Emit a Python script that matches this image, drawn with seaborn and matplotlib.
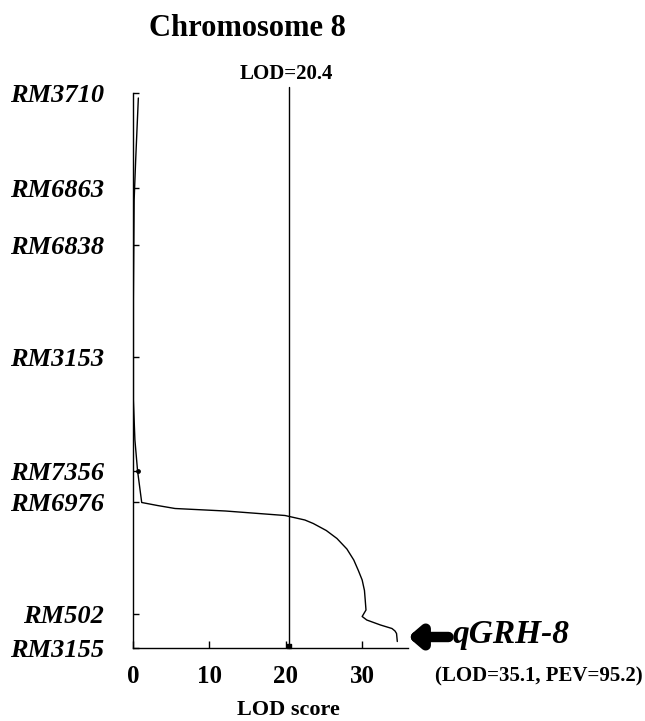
import matplotlib
matplotlib.use("Agg")
import matplotlib.pyplot as plt
import seaborn as sns
import pandas as pd

# ---- data ----
markers = ["RM3710", "RM6863", "RM6838", "RM3153", "RM7356", "RM6976", "RM502", "RM3155"]
marker_pos = [0.0, 19.0, 30.4, 52.8, 75.6, 81.8, 104.2, 111.0]

curve_pos = [1.0, 13.4, 21.4, 41.4, 61.4, 69.4, 75.6, 81.9, 82.5, 83.1, 83.6, 84.5,
             85.4, 86.1, 87.5, 89.1, 91.2, 93.4, 95.5, 97.4, 99.5, 101.4, 103.4,
             104.7, 105.4, 105.9, 106.4, 107.1, 107.6, 108.1, 109.7]
curve_lod = [0.7, 0.35, 0.15, 0.05, 0.05, 0.25, 0.6, 1.14, 3.2, 5.5, 12.1, 19.9,
             22.5, 23.6, 25.3, 26.7, 28.0, 28.9, 29.5, 30.0, 30.3, 30.4, 30.5,
             30.0, 30.6, 31.5, 32.4, 33.9, 34.3, 34.5, 34.6]

threshold = 20.4
x_ticks = [0, 10, 20, 30]
title = "Chromosome 8"
qtl_name = "qGRH-8"
qtl_info = "(LOD=35.1, PEV=95.2)"

df = pd.DataFrame({"pos": curve_pos, "lod": curve_lod})

sns.set_style("white")
plt.rcParams["font.family"] = ["Liberation Serif", "DejaVu Serif"]
plt.rcParams["font.weight"] = "bold"
plt.rcParams["text.color"] = "black"
plt.rcParams["axes.labelcolor"] = "black"
plt.rcParams["xtick.color"] = "black"
plt.rcParams["ytick.color"] = "black"

fig = plt.figure(figsize=(6.45, 7.21), dpi=100)
ax = fig.add_axes([133 / 645, 1 - 648 / 721, (408 - 133) / 645, (648 - 93) / 721])

sns.lineplot(data=df, x="lod", y="pos", orient="y", sort=False, estimator=None,
             color="black", linewidth=1.0, ax=ax)
ax.scatter([0.6], [75.6], s=6, color="black", zorder=3)

ax.set_xlim(0, 36.0)
ax.set_ylim(111.0, 0.0)

# threshold line
ax.plot([threshold, threshold], [111.0, -1.2], color="black", linewidth=1.0, clip_on=False)
ax.scatter([threshold], [110.6], marker="s", s=6, color="black", zorder=3, clip_on=False)

for s in ["top", "right"]:
    ax.spines[s].set_visible(False)
for s in ["left", "bottom"]:
    ax.spines[s].set_color("black")
    ax.spines[s].set_linewidth(1.0)

ax.set_yticks(marker_pos)
ax.set_yticklabels(markers, fontstyle="italic", fontweight="bold", fontsize=19)
ax.set_xticks(x_ticks)
ax.set_xticklabels([str(t) for t in x_ticks], fontweight="bold", fontsize=18)
ax.tick_params(axis="y", direction="in", length=4, width=1, pad=21, left=True)
ax.tick_params(axis="x", direction="in", length=5, width=1, pad=12, bottom=True)
ax.set_xlabel("LOD score", fontweight="bold", fontsize=16, va="center")
ax.xaxis.set_label_coords((288 - 133) / 275, (648 - 710) / 555)
ax.set_ylabel("")

fig.text(247 / 645, 1 - 29 / 721, title, ha="center", va="center", fontsize=22, fontweight="bold")
ax.text(threshold - 0.3, -3.8, "LOD=20.4", ha="center", va="center", fontsize=15, fontweight="bold")

# QTL arrow and annotation
ax.annotate("", xy=(36.0, 108.8), xytext=(41.3, 108.8), annotation_clip=False,
            arrowprops=dict(arrowstyle="-|>,head_length=0.7,head_width=0.6", color="black",
                            linewidth=7.5, shrinkA=0, shrinkB=0))
ax.text(41.9, 108.4, qtl_name, ha="left", va="center", fontsize=24, fontweight="bold",
        fontstyle="italic", clip_on=False)
fig.text(643 / 645, 1 - 676 / 721, qtl_info, ha="right", va="center", fontsize=15, fontweight="bold")

fig.savefig("out.png", dpi=100)
